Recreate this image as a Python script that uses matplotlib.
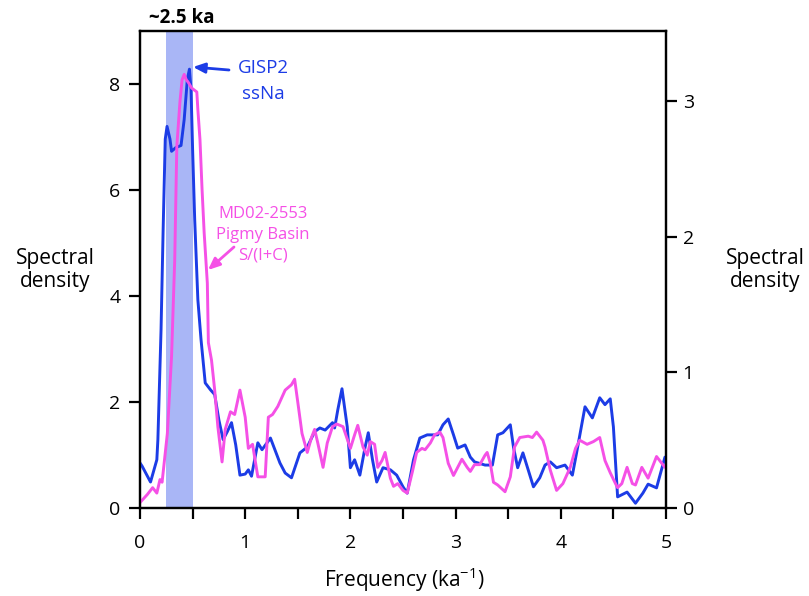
import matplotlib
matplotlib.use("Agg")
import matplotlib.pyplot as plt

# ---------------- data ----------------
# GISP2 ssNa spectrum (left axis)
gisp2_freq = [0.00, 0.02, 0.10, 0.16, 0.17, 0.20, 0.22, 0.24, 0.257, 0.285, 0.30, 0.34, 0.39, 0.42, 0.45,
              0.47, 0.485, 0.50, 0.52, 0.55, 0.58, 0.62, 0.67, 0.71, 0.75, 0.79, 0.83, 0.87, 0.91, 0.95,
              1.00, 1.03, 1.06, 1.12, 1.16, 1.24, 1.33, 1.38, 1.44, 1.52, 1.59, 1.66, 1.71, 1.76, 1.83,
              1.85, 1.88, 1.92, 1.97, 2.00, 2.04, 2.09, 2.14, 2.17, 2.21, 2.25, 2.31, 2.38, 2.44, 2.50,
              2.54, 2.60, 2.66, 2.73, 2.83, 2.88, 2.93, 2.98, 3.02, 3.09, 3.14, 3.18, 3.28, 3.35, 3.40,
              3.45, 3.52, 3.55, 3.59, 3.64, 3.69, 3.74, 3.80, 3.85, 3.90, 3.96, 4.04, 4.11, 4.15, 4.23,
              4.30, 4.37, 4.42, 4.47, 4.50, 4.54, 4.63, 4.71, 4.78, 4.83, 4.91, 4.99]
gisp2_power = [0.85, 0.79, 0.49, 0.91, 1.29, 3.36, 5.26, 6.96, 7.20, 6.96, 6.73, 6.80, 6.84, 7.33, 8.09,
               8.28, 7.90, 6.77, 5.44, 3.93, 3.18, 2.36, 2.23, 2.14, 1.66, 1.29, 1.44, 1.61, 1.19, 0.62,
               0.64, 0.72, 0.60, 1.23, 1.10, 1.32, 0.85, 0.66, 0.57, 1.04, 1.15, 1.44, 1.51, 1.47, 1.61,
               1.51, 1.85, 2.25, 1.53, 0.76, 0.91, 0.62, 1.15, 1.42, 0.91, 0.49, 0.76, 0.72, 0.62, 0.40,
               0.28, 0.91, 1.32, 1.38, 1.38, 1.57, 1.68, 1.38, 1.13, 1.19, 0.96, 0.87, 0.81, 0.81, 1.38,
               1.42, 1.57, 1.15, 0.76, 1.04, 0.72, 0.40, 0.57, 0.81, 0.87, 0.76, 0.81, 0.62, 1.04, 1.91,
               1.70, 2.08, 1.95, 2.06, 1.53, 0.21, 0.30, 0.09, 0.28, 0.45, 0.38, 0.96]

# MD02-2553 Pigmy Basin S/(I+C) spectrum (right axis)
md_freq = [0.00, 0.07, 0.12, 0.16, 0.19, 0.21, 0.26, 0.30, 0.33, 0.35, 0.38, 0.40, 0.42, 0.44, 0.46,
           0.49, 0.54, 0.55, 0.57, 0.59, 0.61, 0.64, 0.65, 0.68, 0.71, 0.74, 0.78, 0.81, 0.86, 0.90,
           0.95, 1.00, 1.03, 1.07, 1.12, 1.19, 1.22, 1.26, 1.31, 1.38, 1.44, 1.47, 1.50, 1.54, 1.59,
           1.63, 1.66, 1.69, 1.74, 1.78, 1.83, 1.87, 1.93, 2.00, 2.04, 2.07, 2.12, 2.16, 2.19, 2.23,
           2.26, 2.30, 2.33, 2.38, 2.41, 2.45, 2.50, 2.54, 2.59, 2.63, 2.68, 2.71, 2.76, 2.80, 2.85,
           2.88, 2.93, 2.98, 3.02, 3.06, 3.11, 3.14, 3.18, 3.23, 3.28, 3.30, 3.33, 3.36, 3.40, 3.47,
           3.52, 3.56, 3.61, 3.69, 3.73, 3.77, 3.83, 3.85, 3.90, 3.96, 4.02, 4.09, 4.14, 4.18, 4.25,
           4.31, 4.37, 4.42, 4.47, 4.52, 4.54, 4.58, 4.63, 4.68, 4.71, 4.77, 4.83, 4.91, 4.96, 4.99]
md_power = [0.04, 0.10, 0.15, 0.11, 0.21, 0.19, 0.55, 1.12, 1.83, 2.67, 3.00, 3.16, 3.20, 3.16, 3.14,
            3.10, 3.07, 2.94, 2.72, 2.35, 2.03, 1.66, 1.22, 1.09, 0.87, 0.60, 0.34, 0.58, 0.71, 0.69,
            0.87, 0.67, 0.44, 0.47, 0.23, 0.23, 0.67, 0.69, 0.75, 0.87, 0.91, 0.95, 0.78, 0.55, 0.41,
            0.52, 0.58, 0.48, 0.30, 0.48, 0.60, 0.62, 0.60, 0.44, 0.54, 0.61, 0.45, 0.39, 0.49, 0.47,
            0.30, 0.35, 0.41, 0.22, 0.16, 0.18, 0.13, 0.11, 0.27, 0.41, 0.44, 0.43, 0.48, 0.54, 0.56,
            0.52, 0.33, 0.24, 0.30, 0.36, 0.30, 0.27, 0.32, 0.32, 0.39, 0.41, 0.33, 0.19, 0.17, 0.12,
            0.23, 0.45, 0.52, 0.53, 0.52, 0.56, 0.50, 0.45, 0.28, 0.13, 0.18, 0.30, 0.44, 0.50, 0.47,
            0.49, 0.52, 0.35, 0.26, 0.18, 0.15, 0.18, 0.30, 0.18, 0.17, 0.30, 0.22, 0.38, 0.33, 0.30]

band_range = [0.25, 0.5]
x_ticks = [0, 1, 2, 3, 4, 5]
x_minor_ticks = [0.5, 1.5, 2.5, 3.5, 4.5]
left_ticks = [0, 2, 4, 6, 8]
right_ticks = [0, 1, 2, 3]

# ---------------- style ----------------
FONT = "Open Sans"
plt.rcParams["font.family"] = [FONT, "DejaVu Sans"]
plt.rcParams["mathtext.fontset"] = "custom"
plt.rcParams["mathtext.rm"] = FONT
plt.rcParams["mathtext.it"] = FONT
plt.rcParams["mathtext.bf"] = FONT

BLUE = "#1c3ce6"
MAGENTA = "#f550e6"
BAND = "#a9b6f6"
W, H = 809, 596

fig = plt.figure(figsize=(W / 100, H / 100), dpi=100)
ax = fig.add_axes([140 / W, 1 - 508 / H, (666 - 140) / W, (508 - 31) / H])
ax2 = ax.twinx()

ax.axvspan(band_range[0], band_range[1], color=BAND, lw=0, zorder=0)
ax.plot(gisp2_freq, gisp2_power, color=BLUE, lw=2.1, zorder=3,
        solid_joinstyle="round", solid_capstyle="round")
ax2.plot(md_freq, md_power, color=MAGENTA, lw=2.1, zorder=2,
         solid_joinstyle="round", solid_capstyle="round")

ax.set_xlim(0, 5)
ax.set_ylim(0, 9)
ax2.set_ylim(0, 3.52)
ax.set_xticks(x_ticks)
ax.set_xticks(x_minor_ticks, minor=True)
ax.set_yticks(left_ticks)
ax2.set_yticks(right_ticks)

for a in (ax, ax2):
    for s in a.spines.values():
        s.set_linewidth(1.6)
ax.tick_params(axis="both", which="both", direction="out", length=8, width=1.6,
               labelsize=14)
ax.tick_params(axis="x", pad=11)
ax.tick_params(axis="y", pad=6)
ax2.tick_params(axis="y", direction="out", length=8, width=1.6, labelsize=14, pad=4)

fig.text(404 / W, 1 - 580 / H, r"Frequency (ka$^{\mathregular{-1}}$)", ha="center",
         va="center", fontsize=15)

fig.text(55 / W, 1 - 270 / H, "Spectral\ndensity", ha="center", va="center",
         fontsize=15, linespacing=1.15)
fig.text(765 / W, 1 - 270 / H, "Spectral\ndensity", ha="center", va="center",
         fontsize=15, linespacing=1.15)

fig.text(182 / W, 1 - 18 / H, "~2.5 ka", ha="center", va="center", fontsize=13.5,
         fontweight="bold")

# annotations
fig.text(263 / W, 1 - 81 / H, "GISP2\nssNa", ha="center", va="center", color=BLUE,
         fontsize=13.5, linespacing=1.55)
ax.annotate("", xy=(193, H - 67), xycoords="figure pixels",
            xytext=(229, H - 70), textcoords="figure pixels",
            arrowprops=dict(arrowstyle="-|>,head_length=0.7,head_width=0.3", color=BLUE,
                            lw=2, shrinkA=0, shrinkB=0),
            annotation_clip=False)
fig.text(263 / W, 1 - 235 / H, "MD02-2553\nPigmy Basin\nS/(I+C)", ha="center", va="center",
         color=MAGENTA, fontsize=12, linespacing=1.4)
ax.annotate("", xy=(208, H - 270), xycoords="figure pixels",
            xytext=(234, H - 247), textcoords="figure pixels",
            arrowprops=dict(arrowstyle="-|>,head_length=0.7,head_width=0.3", color=MAGENTA,
                            lw=2, shrinkA=0, shrinkB=0),
            annotation_clip=False)

fig.savefig("out.png", dpi=100)
